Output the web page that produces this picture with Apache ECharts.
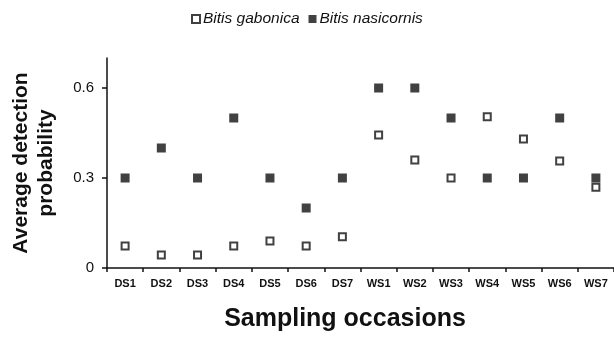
<!DOCTYPE html>
<html><head><meta charset="utf-8">
<script src="https://cdn.jsdelivr.net/npm/echarts@6/dist/echarts.min.js"></script>
<style>html,body{margin:0;padding:0;background:#fff}#c{width:614px;height:344px}</style>
</head><body><div id="c"></div>
<script>
var categories = ['DS1','DS2','DS3','DS4','DS5','DS6','DS7','WS1','WS2','WS3','WS4','WS5','WS6','WS7'];
var gabonica = [0.073,0.043,0.043,0.073,0.09,0.073,0.104,0.443,0.36,0.3,0.504,0.43,0.357,0.269];
var nasicornis = [0.3,0.4,0.3,0.5,0.3,0.2,0.3,0.6,0.6,0.5,0.3,0.3,0.5,0.3];
var yTicks = [0, 0.3, 0.6];

var chart = echarts.init(document.getElementById('c'));
chart.setOption({
  animation: false,
  backgroundColor: '#fff',
  textStyle: {fontFamily: 'Liberation Sans'},
  legend: {
    top: 6, left: 186, itemWidth: 8, itemHeight: 8, itemGap: 9,
    textStyle: {fontFamily: 'Liberation Sans', fontStyle: 'italic', fontSize: 15.5, color: '#111', padding: [0,0,0,-2]},
    data: ['Bitis gabonica', 'Bitis nasicornis']
  },
  grid: {left: 107, right: 0, top: 58, bottom: 76},
  xAxis: {
    type: 'category', data: categories, boundaryGap: true,
    axisLine: {lineStyle: {color: '#111', width: 1.5}},
    axisTick: {show: true, length: 4, lineStyle: {color: '#111', width: 1.5}},
    axisLabel: {fontFamily: 'Liberation Sans', fontWeight: 'bold', fontSize: 11, color: '#111', margin: 10, interval: 0},
    name: 'Sampling occasions', nameLocation: 'middle', nameGap: 39,
    nameTextStyle: {fontFamily: 'Liberation Sans', fontWeight: 'bold', fontSize: 25, color: '#111', padding: [0, 31, 0, 0]}
  },
  yAxis: {
    type: 'value', min: 0, max: 0.7,
    axisLine: {show: true, lineStyle: {color: '#111', width: 1.5}},
    axisTick: {show: true, length: 5, customValues: yTicks, lineStyle: {color: '#111', width: 1.5}},
    axisLabel: {customValues: yTicks, fontFamily: 'Liberation Sans', fontSize: 15, color: '#111', margin: 13},
    splitLine: {show: false},
    name: 'Average detection\nprobability', nameLocation: 'middle', nameGap: 48, nameRotate: 90,
    nameTextStyle: {fontFamily: 'Liberation Sans', fontWeight: 'bold', fontSize: 21, color: '#111', lineHeight: 25}
  },
  series: [
    {name: 'Bitis gabonica', type: 'scatter', data: gabonica, symbol: 'rect', symbolSize: 7,
     itemStyle: {color: '#fff', borderColor: '#111', borderWidth: 2}, z: 3},
    {name: 'Bitis nasicornis', type: 'scatter', data: nasicornis, symbol: 'rect', symbolSize: 9,
     itemStyle: {color: '#111'}, z: 2}
  ]
});
</script></body></html>
